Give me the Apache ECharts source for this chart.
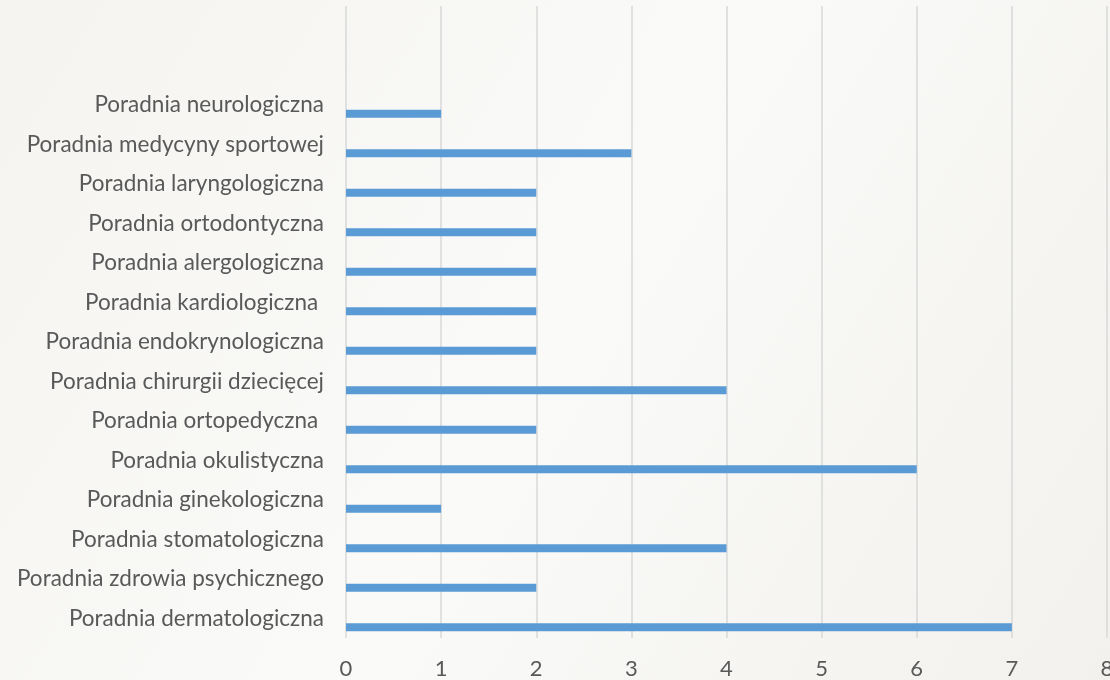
<!DOCTYPE html>
<html><head><meta charset="utf-8">
<script src="https://cdn.jsdelivr.net/npm/echarts@6/dist/echarts.min.js"></script>
<style>html,body{margin:0;padding:0;background:#f7f6f3;}#c{width:1110px;height:680px;}</style>
</head><body><div id="c"></div>
<script>
// bottom to top
const categories = [
  'Poradnia dermatologiczna',
  'Poradnia zdrowia psychicznego',
  'Poradnia stomatologiczna',
  'Poradnia ginekologiczna',
  'Poradnia okulistyczna',
  'Poradnia ortopedyczna ',
  'Poradnia chirurgii dziecięcej',
  'Poradnia endokrynologiczna',
  'Poradnia kardiologiczna ',
  'Poradnia alergologiczna',
  'Poradnia ortodontyczna',
  'Poradnia laryngologiczna',
  'Poradnia medycyny sportowej',
  'Poradnia neurologiczna',
  ' ',
  '  '
];
const values = [7, 2, 4, 1, 6, 2, 4, 2, 2, 2, 2, 2, 3, 1, null, null];
const xTicks = [0, 8, 1];

const chart = echarts.init(document.getElementById('c'), null, {renderer: 'canvas'});
const font = 'Lato';
chart.setOption({
  backgroundColor: {
    type: 'linear', x: 0, y: 0, x2: 1, y2: 1,
    colorStops: [{offset: 0, color: '#f5f4f1'}, {offset: 0.5, color: '#fafaf8'}, {offset: 1, color: '#f2f1ee'}]
  },
  animation: false,
  grid: {left: 346, right: 3, top: 6, bottom: 42, containLabel: false, outerBoundsMode: 'none'},
  xAxis: {
    type: 'value', min: xTicks[0], max: xTicks[1], interval: xTicks[2],
    axisLine: {show: false}, axisTick: {show: false},
    splitLine: {show: true, lineStyle: {color: '#d9d9d9', width: 1.5}},
    axisLabel: {color: '#595959', fontSize: 22, fontFamily: font, margin: 20}
  },
  yAxis: {
    type: 'category', data: categories,
    axisLine: {show: false}, axisTick: {show: false}, splitLine: {show: false},
    axisLabel: {color: '#595959', fontSize: 22.5, fontFamily: font, margin: 22, interval: 0}
  },
  series: [
    {type: 'bar', data: categories.map(() => null), barWidth: 8, barGap: '125%'},
    {type: 'bar', data: values, barWidth: 8, barGap: '125%', itemStyle: {color: '#5b9bd5'}}
  ]
});
</script></body></html>
